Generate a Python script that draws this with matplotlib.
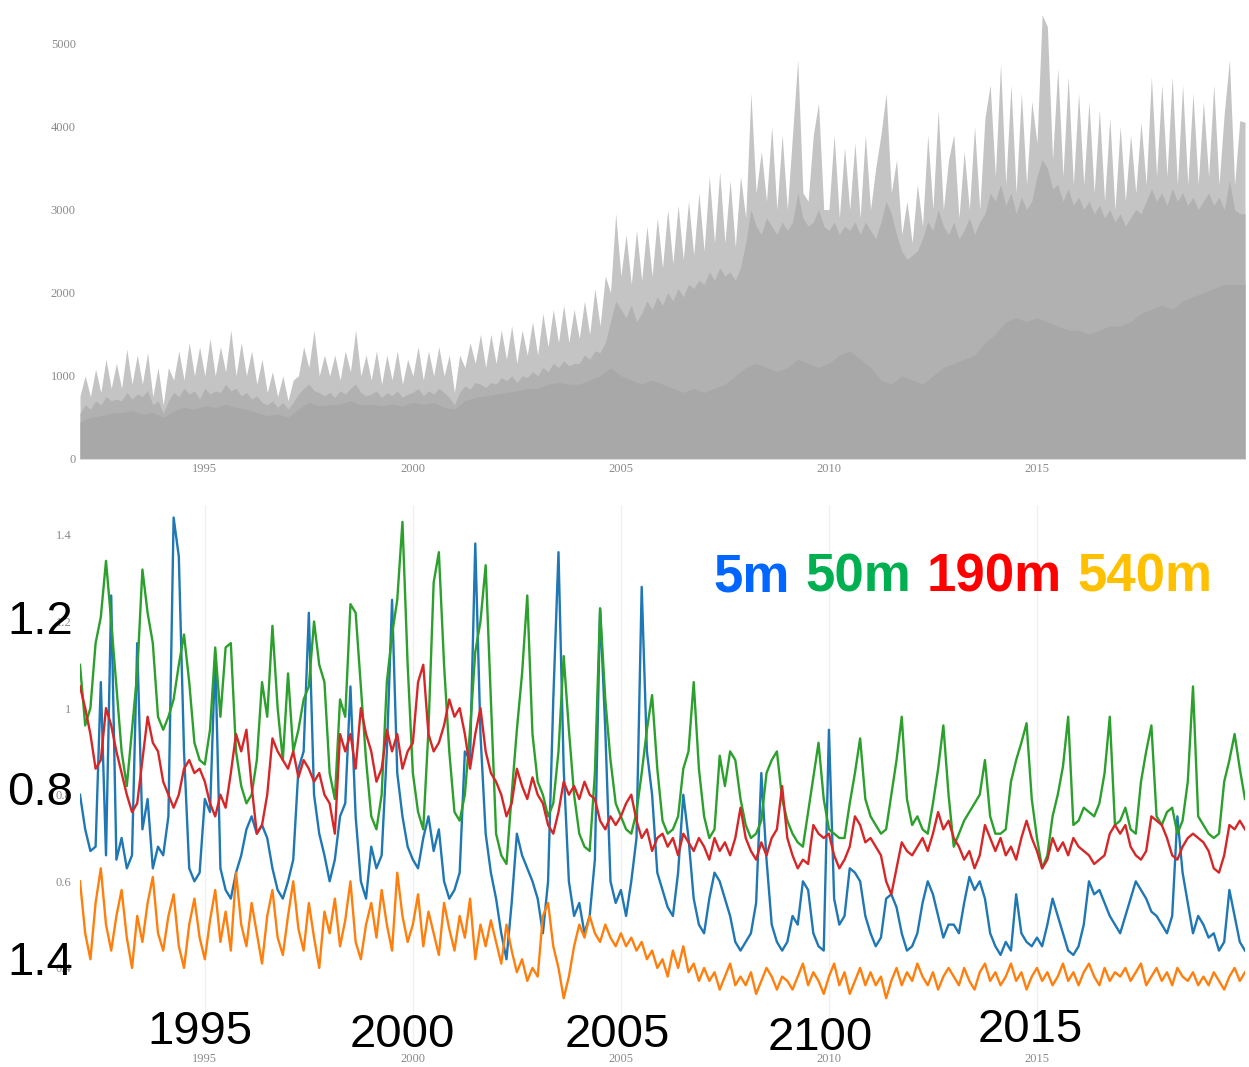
import numpy as np
import matplotlib
matplotlib.use('Agg')
import matplotlib.pyplot as plt

# --- DATA (8 samples per year for 1992-2020) ---
t = np.arange(1992, 2020.001, 0.125)
t_base = np.arange(1992, 2020.001, 0.25)

# top panel: spiky light envelope, solid body and darker base (counts)
count_peak = [
    760, 1000, 750, 1080, 800, 1200, 850, 1150,
    850, 1320, 900, 1250, 900, 1280, 750, 1100,
    650, 1100, 950, 1300, 950, 1400, 1000, 1350,
    1000, 1450, 1000, 1350, 1050, 1550, 1000, 1400,
    1000, 1300, 900, 1200, 800, 1050, 750, 1000,
    700, 950, 1000, 1350, 1100, 1550, 1000, 1250,
    1000, 1250, 950, 1300, 1050, 1550, 1000, 1250,
    950, 1300, 900, 1250, 950, 1300, 900, 1200,
    1000, 1350, 950, 1300, 1000, 1350, 1000, 1250,
    800, 1250, 1100, 1400, 1150, 1500, 1100, 1500,
    1150, 1550, 1200, 1600, 1150, 1550, 1250, 1650,
    1250, 1750, 1350, 1800, 1400, 1850, 1400, 1800,
    1450, 1900, 1500, 2050, 1600, 2200, 2000, 2950,
    2200, 2700, 2100, 2750, 2150, 2800, 2200, 2900,
    2300, 3000, 2350, 3050, 2400, 3100, 2450, 3200,
    2500, 3400, 2600, 3450, 2600, 3350, 2550, 3400,
    2900, 4400, 3200, 3700, 3100, 4000, 3000, 3900,
    3000, 3900, 4800, 3200, 3100, 3900, 4280, 3000,
    3000, 3900, 2900, 3750, 3000, 3800, 2900, 3900,
    3000, 3500, 3900, 4400, 3200, 3600, 2700, 3100,
    2600, 3300, 2800, 3900, 3000, 4200, 3000, 3600,
    3900, 2900, 3700, 3000, 4000, 3000, 4100, 4500,
    3400, 4750, 3300, 4500, 3200, 4400, 3300, 4300,
    3800, 5340, 5200, 3600, 4700, 3400, 4600, 3300,
    4400, 3300, 4300, 3200, 4200, 3100, 4100, 3000,
    4000, 3100, 3900, 3200, 4050, 3300, 4600, 3400,
    4500, 3400, 4600, 3300, 4500, 3300, 4400, 3300,
    4300, 3400, 4500, 3300, 4150, 4800, 3300, 4070,
    4050,
]
count_body = [
    550, 650, 600, 700, 650, 750, 700, 720,
    700, 800, 720, 780, 750, 820, 650, 700,
    550, 700, 800, 750, 850, 780, 820, 720,
    850, 780, 820, 800, 900, 820, 850, 760,
    800, 720, 760, 680, 650, 700, 620, 680,
    600, 680, 780, 850, 900, 820, 800, 760,
    800, 740, 820, 780, 850, 900, 800, 760,
    780, 820, 740, 800, 760, 820, 740, 780,
    800, 850, 760, 820, 780, 850, 800, 740,
    650, 800, 880, 840, 920, 900, 860, 920,
    900, 980, 940, 1000, 920, 1000, 980, 1050,
    1000, 1100, 1050, 1150, 1100, 1180, 1120, 1150,
    1150, 1250, 1200, 1300, 1280, 1400, 1650, 1900,
    1800, 1700, 1850, 1650, 1750, 1900, 1800, 1950,
    1850, 2000, 1900, 2050, 1950, 2100, 2050, 2150,
    2100, 2250, 2150, 2300, 2200, 2250, 2150, 2300,
    2600, 3000, 2800, 2700, 2900, 2800, 2700, 2850,
    2750, 2850, 3200, 2900, 2800, 2850, 3000, 2800,
    2750, 2850, 2700, 2800, 2750, 2850, 2700, 2850,
    2750, 2650, 2850, 3100, 2950, 2700, 2500, 2400,
    2450, 2500, 2650, 2850, 2750, 3000, 2800, 2700,
    2850, 2650, 2750, 2900, 2700, 2850, 2950, 3200,
    3100, 3300, 3050, 3200, 2950, 3150, 3000, 3100,
    3400, 3600, 3500, 3250, 3300, 3100, 3250, 3050,
    3150, 3000, 3100, 2950, 3050, 2900, 3000, 2850,
    2950, 2800, 2900, 3000, 2950, 3100, 3250, 3100,
    3200, 3050, 3250, 3100, 3200, 3050, 3150, 3000,
    3100, 3200, 3050, 3150, 3000, 3350, 3000, 2950,
    2950,
]
count_base = [
    450, 500, 520, 550,  560, 580, 540, 560,  500, 580, 620, 600,
    640, 620, 660, 620,  600, 560, 520, 540,  500, 600, 680, 640,
    650, 660, 700, 650,  660, 640, 660, 640,  680, 660, 680, 620,
    600, 700, 740, 760,  780, 800, 820, 850,  850, 900, 920, 900,
    900, 950, 1000, 1100,  1000, 950, 900, 950,  900, 850, 800, 850,
    800, 850, 900, 1000,  1100, 1150, 1100, 1050,  1100, 1200, 1150, 1100,
    1150, 1250, 1300, 1200,  1100, 950, 900, 1000,  950, 900, 1000, 1100,
    1150, 1200, 1250, 1400,  1500, 1650, 1700, 1650,  1700, 1650, 1600, 1550,
    1550, 1500, 1550, 1600,  1600, 1650, 1750, 1800,  1850, 1800, 1900, 1950,
    2000, 2050, 2100, 2100,  2100,
]

# bottom panel: ratio series for the four depths
ratio_5m = [
    0.80, 0.72, 0.67, 0.68, 1.06, 0.66, 1.26, 0.65,
    0.70, 0.63, 0.66, 1.15, 0.72, 0.79, 0.63, 0.68,
    0.66, 0.75, 1.44, 1.35, 0.90, 0.63, 0.60, 0.62,
    0.79, 0.76, 1.12, 0.63, 0.58, 0.56, 0.62, 0.66,
    0.72, 0.75, 0.71, 0.73, 0.70, 0.63, 0.58, 0.56,
    0.60, 0.65, 0.86, 0.90, 1.22, 0.80, 0.71, 0.66,
    0.60, 0.65, 0.75, 0.78, 1.05, 0.75, 0.60, 0.56,
    0.68, 0.63, 0.66, 0.90, 1.25, 0.85, 0.75, 0.68,
    0.65, 0.63, 0.70, 0.75, 0.67, 0.72, 0.60, 0.56,
    0.58, 0.62, 0.90, 0.88, 1.38, 0.94, 0.71, 0.62,
    0.56, 0.48, 0.42, 0.55, 0.71, 0.66, 0.63, 0.60,
    0.56, 0.48, 0.60, 1.02, 1.36, 0.86, 0.60, 0.52,
    0.55, 0.48, 0.52, 0.65, 1.23, 0.95, 0.60, 0.55,
    0.58, 0.52, 0.60, 0.70, 1.28, 0.90, 0.80, 0.62,
    0.58, 0.54, 0.52, 0.62, 0.80, 0.70, 0.56, 0.50,
    0.48, 0.56, 0.62, 0.60, 0.56, 0.52, 0.46, 0.44,
    0.46, 0.48, 0.55, 0.85, 0.65, 0.50, 0.46, 0.44,
    0.46, 0.52, 0.50, 0.60, 0.58, 0.48, 0.45, 0.44,
    0.95, 0.56, 0.50, 0.52, 0.63, 0.62, 0.60, 0.52,
    0.48, 0.45, 0.47, 0.56, 0.57, 0.54, 0.48, 0.44,
    0.45, 0.48, 0.55, 0.60, 0.57, 0.52, 0.47, 0.50,
    0.50, 0.48, 0.55, 0.61, 0.58, 0.60, 0.56, 0.48,
    0.45, 0.43, 0.46, 0.44, 0.57, 0.48, 0.46, 0.45,
    0.47, 0.45, 0.50, 0.56, 0.52, 0.48, 0.44, 0.43,
    0.45, 0.50, 0.60, 0.57, 0.58, 0.55, 0.52, 0.50,
    0.48, 0.52, 0.56, 0.60, 0.58, 0.56, 0.53, 0.52,
    0.50, 0.48, 0.52, 0.75, 0.62, 0.55, 0.48, 0.52,
    0.50, 0.47, 0.48, 0.44, 0.46, 0.58, 0.52, 0.46,
    0.44,
]
ratio_50m = [
    1.10, 0.96, 1.00, 1.15, 1.21, 1.34, 1.20, 1.05,
    0.90, 0.82, 0.95, 1.08, 1.32, 1.22, 1.15, 0.98,
    0.95, 0.98, 1.02, 1.10, 1.17, 1.06, 0.92, 0.88,
    0.87, 0.95, 1.14, 0.98, 1.14, 1.15, 0.90, 0.82,
    0.78, 0.80, 0.88, 1.06, 0.98, 1.19, 1.00, 0.88,
    1.08, 0.90, 0.95, 1.02, 1.05, 1.20, 1.10, 1.06,
    0.85, 0.79, 1.02, 0.98, 1.24, 1.22, 1.05, 0.88,
    0.75, 0.72, 0.80, 1.06, 1.17, 1.25, 1.43, 1.10,
    0.85, 0.76, 0.72, 0.95, 1.29, 1.36, 1.10, 0.90,
    0.76, 0.74, 0.80, 0.95, 1.13, 1.20, 1.33, 1.02,
    0.71, 0.66, 0.64, 0.80, 0.95, 1.08, 1.26, 0.94,
    0.83, 0.80, 0.75, 0.78, 0.90, 1.12, 0.95, 0.80,
    0.71, 0.68, 0.67, 0.85, 1.23, 1.02, 0.88, 0.78,
    0.75, 0.72, 0.71, 0.76, 0.85, 0.95, 1.03, 0.86,
    0.74, 0.71, 0.72, 0.75, 0.86, 0.90, 1.06, 0.86,
    0.75, 0.70, 0.72, 0.89, 0.82, 0.90, 0.88, 0.79,
    0.73, 0.70, 0.71, 0.74, 0.85, 0.88, 0.90, 0.79,
    0.74, 0.71, 0.69, 0.68, 0.76, 0.84, 0.92, 0.79,
    0.72, 0.71, 0.70, 0.70, 0.78, 0.85, 0.93, 0.79,
    0.75, 0.73, 0.71, 0.72, 0.80, 0.88, 0.98, 0.79,
    0.73, 0.75, 0.72, 0.71, 0.78, 0.86, 0.96, 0.80,
    0.68, 0.71, 0.74, 0.76, 0.78, 0.80, 0.88, 0.75,
    0.71, 0.71, 0.72, 0.83, 0.88, 0.92, 0.965, 0.79,
    0.70, 0.63, 0.66, 0.75, 0.80, 0.865, 0.98, 0.73,
    0.74, 0.77, 0.76, 0.75, 0.78, 0.85, 0.98, 0.73,
    0.74, 0.77, 0.72, 0.71, 0.83, 0.90, 0.96, 0.75,
    0.73, 0.76, 0.77, 0.71, 0.74, 0.83, 1.05, 0.75,
    0.73, 0.71, 0.70, 0.71, 0.83, 0.88, 0.94, 0.86,
    0.79,
]
ratio_190m = [
    1.05, 1.00, 0.94, 0.86, 0.88, 1.00, 0.96, 0.90,
    0.85, 0.80, 0.76, 0.78, 0.88, 0.98, 0.92, 0.90,
    0.83, 0.80, 0.77, 0.80, 0.86, 0.88, 0.85, 0.86,
    0.83, 0.78, 0.75, 0.80, 0.77, 0.85, 0.94, 0.90,
    0.95, 0.82, 0.71, 0.73, 0.80, 0.93, 0.90, 0.88,
    0.86, 0.90, 0.84, 0.88, 0.86, 0.83, 0.85, 0.80,
    0.78, 0.71, 0.94, 0.90, 0.94, 0.86, 1.00, 0.94,
    0.90, 0.83, 0.86, 0.95, 0.90, 0.94, 0.86, 0.90,
    0.92, 1.06, 1.10, 0.94, 0.90, 0.92, 0.96, 1.02,
    0.98, 1.00, 0.94, 0.86, 0.94, 1.00, 0.90, 0.85,
    0.83, 0.80, 0.75, 0.78, 0.86, 0.82, 0.79, 0.84,
    0.80, 0.78, 0.73, 0.71, 0.76, 0.83, 0.80, 0.82,
    0.79, 0.83, 0.80, 0.79, 0.74, 0.72, 0.75, 0.73,
    0.75, 0.78, 0.80, 0.74, 0.70, 0.72, 0.67, 0.70,
    0.71, 0.68, 0.70, 0.66, 0.71, 0.69, 0.67, 0.70,
    0.68, 0.65, 0.70, 0.67, 0.69, 0.66, 0.70, 0.77,
    0.70, 0.67, 0.65, 0.69, 0.66, 0.70, 0.72, 0.82,
    0.70, 0.66, 0.63, 0.65, 0.64, 0.73, 0.71, 0.70,
    0.71, 0.66, 0.63, 0.65, 0.68, 0.75, 0.73, 0.69,
    0.70, 0.68, 0.66, 0.60, 0.57, 0.63, 0.69, 0.67,
    0.66, 0.68, 0.70, 0.67, 0.71, 0.76, 0.72, 0.74,
    0.70, 0.68, 0.65, 0.67, 0.63, 0.66, 0.73, 0.70,
    0.67, 0.70, 0.66, 0.68, 0.65, 0.70, 0.74, 0.70,
    0.67, 0.63, 0.65, 0.70, 0.67, 0.69, 0.66, 0.70,
    0.68, 0.67, 0.66, 0.64, 0.65, 0.66, 0.71, 0.73,
    0.71, 0.73, 0.68, 0.66, 0.65, 0.67, 0.75, 0.74,
    0.73, 0.70, 0.66, 0.65, 0.68, 0.70, 0.71, 0.70,
    0.69, 0.67, 0.63, 0.62, 0.66, 0.73, 0.72, 0.74,
    0.72,
]
ratio_540m = [
    0.60, 0.48, 0.42, 0.55, 0.63, 0.50, 0.44, 0.52,
    0.58, 0.47, 0.40, 0.52, 0.46, 0.55, 0.61, 0.48,
    0.44, 0.52, 0.57, 0.45, 0.40, 0.50, 0.56, 0.47,
    0.42, 0.51, 0.58, 0.46, 0.53, 0.44, 0.62, 0.50,
    0.45, 0.55, 0.48, 0.41, 0.52, 0.58, 0.47, 0.43,
    0.52, 0.60, 0.49, 0.44, 0.55, 0.47, 0.40, 0.53,
    0.48, 0.56, 0.45, 0.51, 0.60, 0.46, 0.42, 0.50,
    0.55, 0.47, 0.58, 0.50, 0.44, 0.62, 0.52, 0.46,
    0.50, 0.57, 0.45, 0.53, 0.48, 0.43, 0.55, 0.49,
    0.44, 0.52, 0.47, 0.56, 0.42, 0.50, 0.45, 0.51,
    0.46, 0.41, 0.50, 0.44, 0.39, 0.42, 0.37, 0.40,
    0.38, 0.52, 0.55, 0.45, 0.40, 0.33, 0.38, 0.45,
    0.50, 0.47, 0.52, 0.48, 0.46, 0.50, 0.47, 0.45,
    0.48, 0.45, 0.47, 0.44, 0.46, 0.42, 0.44, 0.40,
    0.42, 0.38, 0.44, 0.40, 0.45, 0.39, 0.41, 0.37,
    0.40, 0.37, 0.39, 0.35, 0.38, 0.41, 0.36, 0.38,
    0.36, 0.39, 0.34, 0.37, 0.40, 0.38, 0.35, 0.38,
    0.37, 0.35, 0.38, 0.41, 0.36, 0.39, 0.37, 0.34,
    0.38, 0.41, 0.36, 0.39, 0.34, 0.37, 0.40, 0.36,
    0.39, 0.36, 0.38, 0.33, 0.37, 0.40, 0.36, 0.39,
    0.37, 0.41, 0.38, 0.36, 0.39, 0.35, 0.38, 0.40,
    0.38, 0.36, 0.40, 0.37, 0.35, 0.39, 0.41, 0.37,
    0.39, 0.36, 0.38, 0.41, 0.37, 0.39, 0.35, 0.38,
    0.40, 0.37, 0.39, 0.36, 0.38, 0.41, 0.37, 0.39,
    0.36, 0.39, 0.41, 0.38, 0.36, 0.40, 0.37, 0.39,
    0.38, 0.40, 0.37, 0.39, 0.41, 0.36, 0.38, 0.40,
    0.37, 0.39, 0.36, 0.40, 0.38, 0.37, 0.39, 0.36,
    0.38, 0.36, 0.39, 0.37, 0.35, 0.38, 0.40, 0.37,
    0.39,
]

year_ticks = [1995, 2000, 2005, 2010, 2015]
count_ticks = [0, 1000, 2000, 3000, 4000, 5000]
ratio_ticks = [0.4, 0.6, 0.8, 1.0, 1.2, 1.4]
ratio_tick_labels = ['0.4', '0.6', '0.8', '1', '1.2', '1.4']

# big labels pasted over the lower chart
overlay_y_labels = ['1.2', '0.8', '1.4']
overlay_x_labels = ['1995', '2000', '2005', '2100', '2015']
depth_labels = ['5m', '50m', '190m', '540m']
depth_colors = ['#0066ff', '#00b050', '#ff0000', '#ffc000']

# --- FIGURE ---
W, H = 1249, 1067
fig = plt.figure(figsize=(W / 100, H / 100), dpi=100)

def px_box(left, top, right, bottom):
    return [left / W, 1 - bottom / H, (right - left) / W, (bottom - top) / H]

small_font = dict(family='Liberation Serif', size=9, color='#8a8a8a')

# top panel
ax1 = fig.add_axes(px_box(80, 10, 1245, 459))
ax1.fill_between(t, 0, count_peak, color='#c4c4c4', lw=0)
ax1.fill_between(t, 0, count_body, color='#b1b1b1', lw=0)
ax1.fill_between(t_base, 0, count_base, color='#a8a8a8', lw=0)
ax1.set_xlim(1992, 2020)
ax1.set_ylim(0, 5400)
ax1.set_xticks(year_ticks)
ax1.set_yticks(count_ticks)
for s in ['top', 'right', 'left']:
    ax1.spines[s].set_visible(False)
ax1.spines['bottom'].set_color('#dddddd')
ax1.tick_params(length=0, pad=3)
for lab in ax1.get_xticklabels() + ax1.get_yticklabels():
    lab.set_fontfamily(small_font['family'])
    lab.set_fontsize(small_font['size'])
    lab.set_color(small_font['color'])

# bottom panel
ax2 = fig.add_axes(px_box(80, 505, 1245, 1045))
for yr in year_ticks:
    ax2.axvline(yr, color='#f0f0f0', lw=1, zorder=0)
ax2.plot(t, ratio_5m, color='#1f77b4', lw=1.7)
ax2.plot(t, ratio_540m, color='#ff7f0e', lw=1.7)
ax2.plot(t, ratio_50m, color='#2ca02c', lw=1.7)
ax2.plot(t, ratio_190m, color='#d62728', lw=1.7)
ax2.set_xlim(1992, 2020)
ax2.set_ylim(0.222, 1.469)
ax2.set_xticks(year_ticks)
ax2.set_yticks(ratio_ticks)
ax2.set_yticklabels(ratio_tick_labels)
for s in ax2.spines.values():
    s.set_visible(False)
ax2.tick_params(length=0, pad=6)
for lab in ax2.get_xticklabels() + ax2.get_yticklabels():
    lab.set_fontfamily(small_font['family'])
    lab.set_fontsize(small_font['size'])
    lab.set_color(small_font['color'])

# big overlay text
big = dict(family='Liberation Sans', fontsize=34, color='black', ha='center', va='center')
for lab, ypx in zip(overlay_y_labels, [622, 793, 963]):
    fig.text(40 / W, 1 - ypx / H, lab, **big)
for lab, (xpx, ypx) in zip(overlay_x_labels, [(200, 1032), (402, 1035), (617, 1035),
                                                (820, 1038), (1030, 1030)]):
    fig.text(xpx / W, 1 - ypx / H, lab, **big)

# coloured depth legend
for lab, col, xpx in zip(depth_labels, depth_colors, [713, 805, 927, 1077]):
    fig.text(xpx / W, 1 - 591 / H, lab, color=col, family='Liberation Sans',
             fontsize=38, fontweight='bold', ha='left', va='baseline')

fig.savefig('out.png', dpi=100)
